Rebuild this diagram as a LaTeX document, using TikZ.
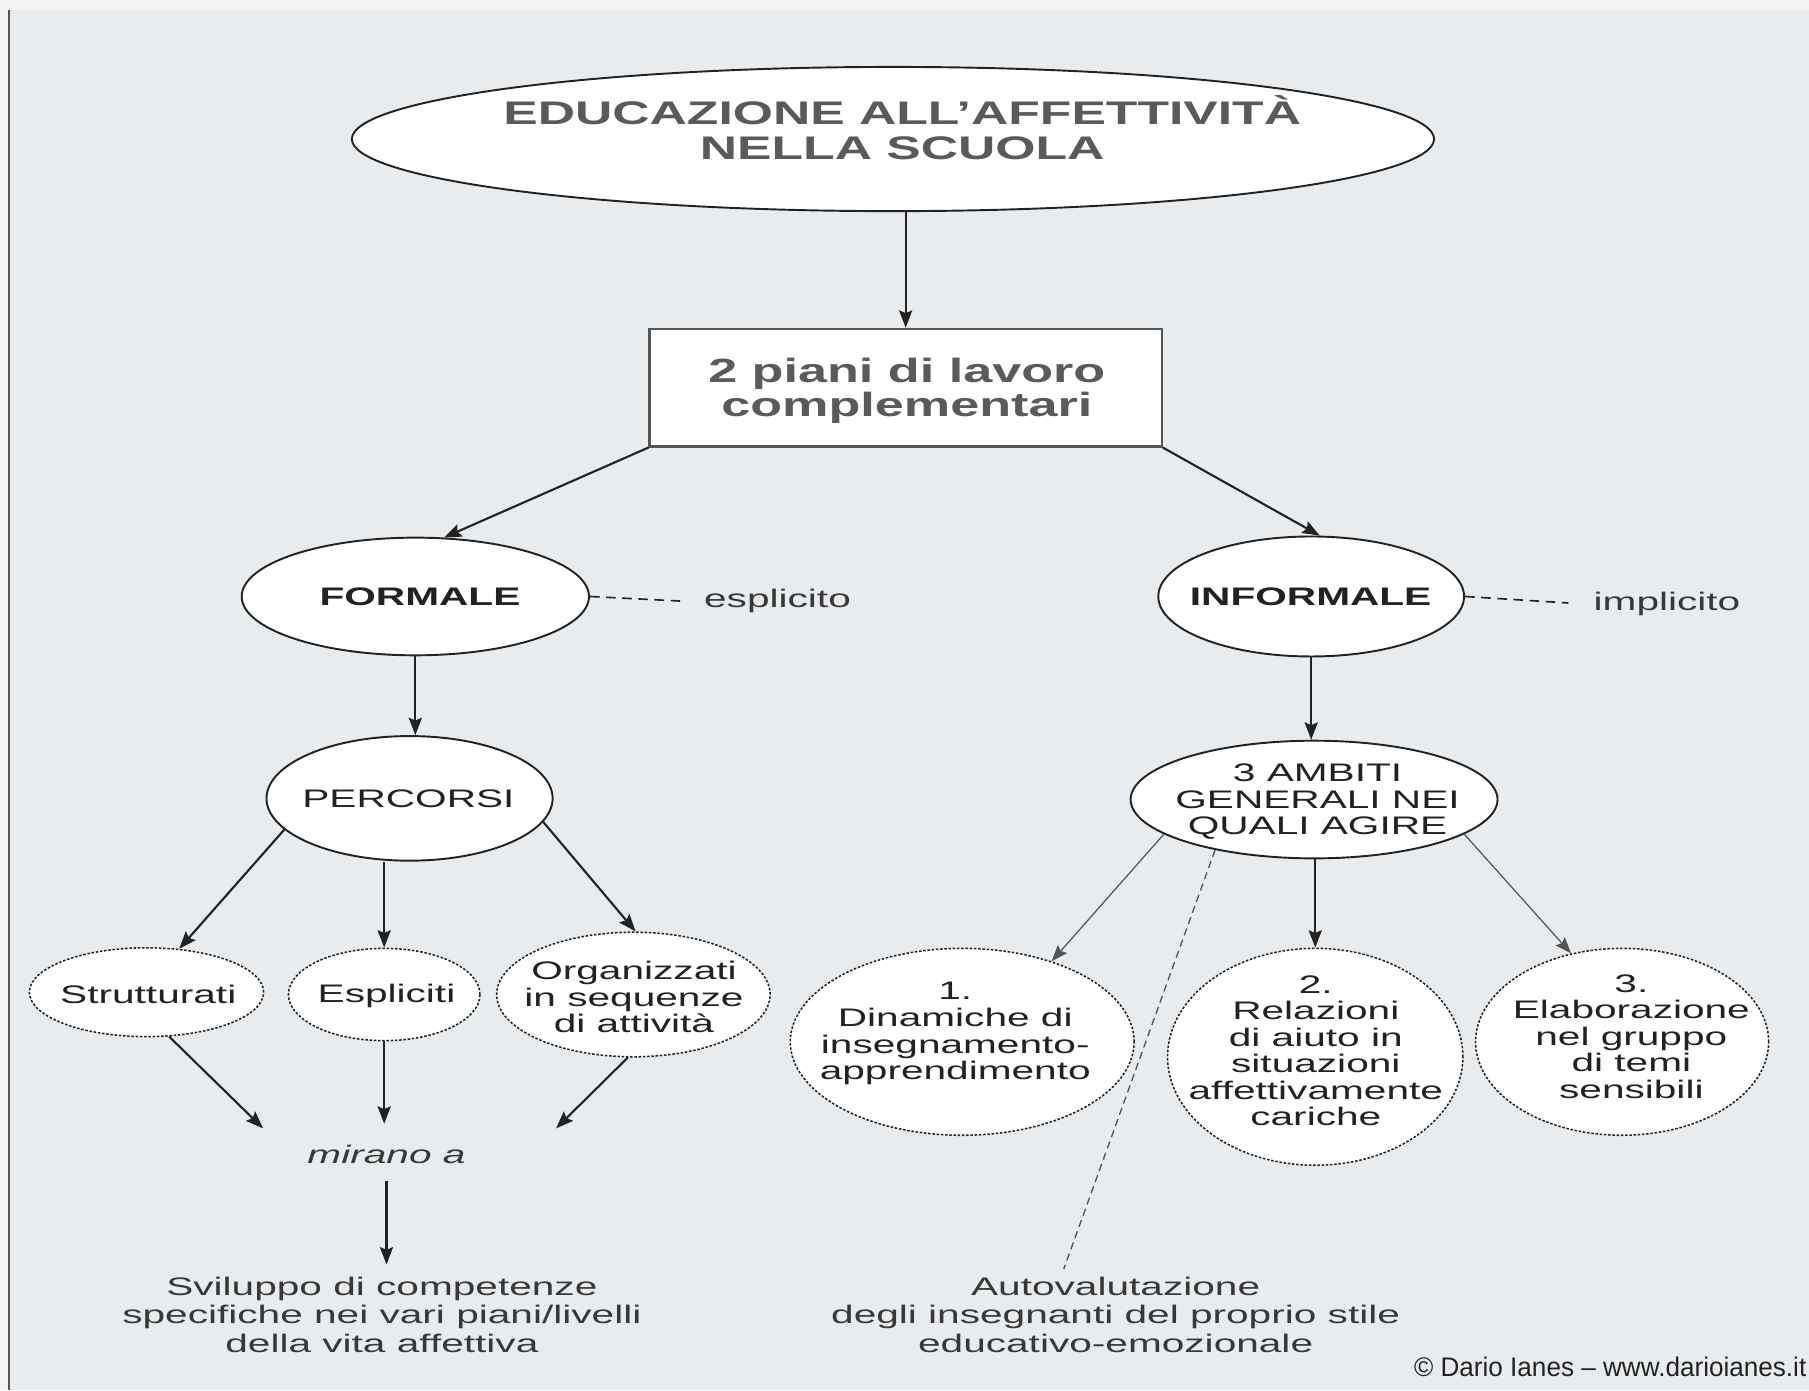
\documentclass[tikz,border=0pt]{standalone}
\usepackage{fontspec}
\setmainfont{Liberation Sans}
\usepackage{graphicx}
\usetikzlibrary{shapes.geometric,arrows.meta,calc}

\definecolor{bgmain}{HTML}{E9ECEF}
\definecolor{bgband}{HTML}{F3F3F3}
\definecolor{ink}{HTML}{222222}
\definecolor{softink}{HTML}{383838}
\definecolor{thingray}{HTML}{555555}
\definecolor{titlegray}{HTML}{5A5A5A}
\definecolor{framegray}{HTML}{555555}
\definecolor{boxgray}{HTML}{555555}

\newcommand\stx[2]{\scalebox{#1}[1]{\begin{tabular}{@{}c@{}}#2\end{tabular}}}

\tikzset{
  solidell/.style={ellipse, draw=ink, line width=1pt, fill=white, inner sep=0pt},
  dotell/.style={ellipse, draw=ink, line width=0.8pt, dash pattern=on 1.3pt off 0.9pt, fill=white, inner sep=0pt},
  arr/.style={draw=ink, line width=1.1pt, -{Stealth[length=9pt,width=6.8pt,inset=1.4pt]}},
  thinarr/.style={draw=thingray, line width=0.65pt, -{Stealth[length=8.5pt,width=6.4pt,inset=1.4pt]}},
  dashlink/.style={draw=ink, line width=0.85pt, dash pattern=on 5pt off 3.4pt},
  finedash/.style={draw=thingray, line width=0.7pt, dash pattern=on 3.8pt off 2.4pt},
  txt/.style={inner sep=0pt, text=ink, font=\fontsize{13.2}{13.8}\selectfont},
  boldtxt/.style={inner sep=0pt, text=ink, font=\fontsize{13.2}{13.8}\selectfont\bfseries},
  softtxt/.style={inner sep=0pt, text=softink, font=\fontsize{13.2}{14.8}\selectfont},
  titletxt/.style={inner sep=0pt, text=titlegray, font=\fontsize{17}{18.5}\selectfont\bfseries},
  boxtxt/.style={inner sep=0pt, text=titlegray, font=\fontsize{17.5}{17.3}\selectfont\bfseries}
}

\begin{document}
\begin{tikzpicture}[x=0.6pt,y=-0.6pt]
\useasboundingbox (0,0) rectangle (1568,1205);
% background and frame
\fill[bgmain] (0,0) rectangle (1568,1205);
\fill[bgband] (0,0) rectangle (1568,9);
\fill[bgband] (0,9) rectangle (7,1205);
\draw[framegray, line width=1.1pt] (8,9) -- (8,1205);

% shapes
\node[solidell, minimum width={938*0.6pt}, minimum height={125*0.6pt}] (title) at (774,120.5) {};
\node[titletxt] (titletext) at (782,115) {\stx{1.58}{EDUCAZIONE ALL’AFFETTIVITÀ\\NELLA SCUOLA}};

\node[draw=boxgray, line width=1.1pt, fill=white, inner sep=0pt, minimum width={444*0.6pt}, minimum height={102*0.6pt}] (piani) at (785,336) {};
\node[boxtxt] (pianitext) at (786,340) {\stx{1.55}{2 piani di lavoro\\complementari}};

\node[solidell, minimum width={301*0.6pt}, minimum height={102*0.6pt}] (formale) at (360,517) {};
\node[boldtxt] (formaletext) at (364,520) {\stx{1.6}{FORMALE}};
\node[solidell, minimum width={265*0.6pt}, minimum height={104*0.6pt}] (informale) at (1136.5,517) {};
\node[boldtxt] (informaletext) at (1136,520) {\stx{1.6}{INFORMALE}};

\node[softtxt, anchor=west] (esp) at (610,522) {\stx{1.6}{esplicito}};
\node[softtxt, anchor=west] (imp) at (1381,524) {\stx{1.6}{implicito}};

\node[solidell, minimum width={248*0.6pt}, minimum height={108*0.6pt}] (percorsi) at (355,692) {};
\node[txt] (percorsitext) at (354,695) {\stx{1.6}{PERCORSI}};

\node[dotell, minimum width={203*0.6pt}, minimum height={77*0.6pt}] (strut) at (127,860) {};
\node[txt] (struttext) at (128.5,865) {\stx{1.6}{Strutturati}};
\node[dotell, minimum width={166*0.6pt}, minimum height={80*0.6pt}] (espl) at (333,862) {};
\node[txt] (espltext) at (335,864.5) {\stx{1.6}{Espliciti}};
\node[dotell, minimum width={237*0.6pt}, minimum height={108*0.6pt}] (org) at (549,862) {};
\node[txt] (orgtext) at (549.5,867.5) {\stx{1.6}{Organizzati\\in sequenze\\di attività}};

\coordinate (mL) at (228,978);
\coordinate (mC) at (333,974);
\coordinate (mR) at (482,978);
\node[softtxt, font=\fontsize{13.2}{13.8}\selectfont\itshape] (mirano) at (335,1003.5) {\stx{1.6}{mirano a}};
\node[softtxt] (sviluppo) at (331,1142.3) {\stx{1.6}{Sviluppo di competenze\\specifiche nei vari piani/livelli\\della vita affettiva}};

\node[solidell, minimum width={318*0.6pt}, minimum height={102*0.6pt}] (ambiti) at (1139,693) {};
\node[txt] (ambititext) at (1142,696) {\stx{1.6}{3 AMBITI\\GENERALI NEI\\QUALI AGIRE}};

\node[dotell, minimum width={298*0.6pt}, minimum height={162*0.6pt}] (one) at (834,903) {};
\node[txt] (onetext) at (828,896.6) {\stx{1.6}{1.\\Dinamiche di\\insegnamento-\\apprendimento}};
\node[dotell, minimum width={256*0.6pt}, minimum height={188*0.6pt}] (two) at (1140,916) {};
\node[txt] (twotext) at (1140.5,913.6) {\stx{1.6}{2.\\Relazioni\\di aiuto in\\situazioni\\affettivamente\\cariche}};
\node[dotell, minimum width={254*0.6pt}, minimum height={162*0.6pt}] (three) at (1406,903) {};
\node[txt] (threetext) at (1414,901.3) {\stx{1.6}{3.\\Elaborazione\\nel gruppo\\di temi\\sensibili}};

\coordinate (autoend) at (922,1100);
\node[softtxt] (auto) at (967,1142.3) {\stx{1.6}{Autovalutazione\hspace{0.75em}\\degli insegnanti del proprio stile\\educativo-emozionale}};

\node[inner sep=0pt, anchor=base east, text=ink, font=\fontsize{14}{16}\selectfont] (copy) at (1566,1193) {\scalebox{0.97}[1]{© Dario Ianes – www.darioianes.it}};

% connectors
\draw[arr] (title.south -| piani.north) -- (piani.north);
\draw[arr] (piani.south west) -- (formale.64);
\draw[arr] (piani.south east) -- (informale.82);
\draw[dashlink, shorten >=11pt] (formale.east) -- (esp.west);
\draw[dashlink, shorten >=13pt] (informale.east) -- (imp.west);
\draw[arr] (formale.south) -- (formale.south |- percorsi.north);
\draw[arr] (percorsi.194) -- (strut.53);
\draw[arr] (espl.north |- percorsi.south) -- (espl.north);
\draw[arr] (percorsi.350) -- (org.88);
\draw[arr] (strut.297) -- (mL);
\draw[arr] (espl.south) -- (mC);
\draw[arr] (org.265) -- (mR);
\draw[arr, shorten <=4.8pt, shorten >=5.4pt] (mirano.south) -- (mirano.south |- sviluppo.north);
\draw[arr] (informale.south) -- (informale.south |- ambiti.north);
\draw[thinarr] (ambiti.193) -- (one.42);
\draw[arr] (ambiti.south -| two.north) -- (two.north);
\draw[thinarr] (ambiti.347) -- (three.120);
\draw[finedash] (ambiti.207) -- (autoend);
\end{tikzpicture}
\end{document}
